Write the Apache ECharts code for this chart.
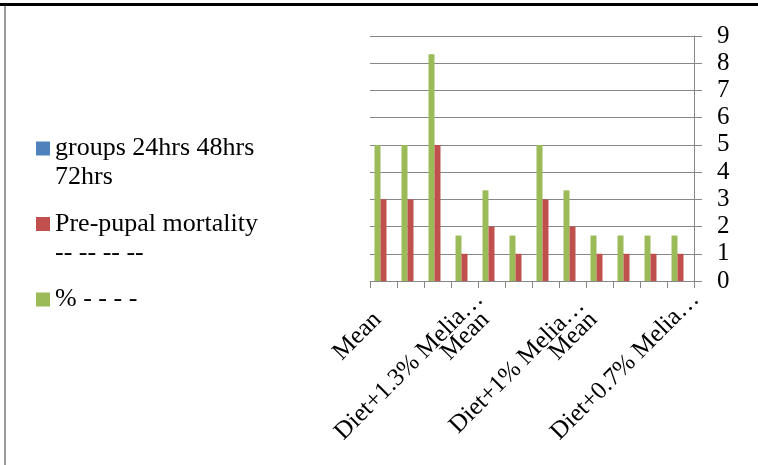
<!DOCTYPE html>
<html>
<head>
<meta charset="utf-8">
<script src="https://cdn.jsdelivr.net/npm/echarts@6/dist/echarts.min.js"></script>
<style>
html,body{margin:0;padding:0;background:#ffffff;}
#chart{width:758px;height:465px;}
</style>
</head>
<body>
<div id="chart"></div>
<script>
// ---- data (display order, left to right) ----
const categories = ['Mean', '', 'Diet+1.3% Melia…', '', 'Mean', '', 'Diet+1% Melia…', '', 'Mean', '', 'Diet+0.7% Melia…', ''];
const seriesNames = ['groups 24hrs 48hrs 72hrs', 'Pre-pupal mortality -- -- -- --', '% - - - -'];
const groupsValues = [0, 0, 0, 0, 0, 0, 0, 0, 0, 0, 0, 0];
const prePupalValues = [3, 3, 5, 1, 2, 1, 3, 2, 1, 1, 1, 1];
const percentValues = [5, 5, 8.33, 1.67, 3.33, 1.67, 5, 3.33, 1.67, 1.67, 1.67, 1.67];
const yMin = 0, yMax = 9, yStep = 1;

const FONT = "'Liberation Serif', 'Times New Roman', serif";
const FS = 25;
const LEG_FS = 26;
const LEG_LH = 29;
const GRID_COLOR = '#868686';
const colors = { groups: '#4F81BD', pre: '#C0504D', pct: '#9BBB59' };

// word wrap for legend text (like the spreadsheet's legend box)
const measureCtx = document.createElement('canvas').getContext('2d');
measureCtx.font = LEG_FS + "px 'Liberation Serif'";
function wrapWords(text, maxWidth) {
  const words = text.split(' ');
  const lines = [];
  let cur = '';
  words.forEach(function (w) {
    const test = cur ? cur + ' ' + w : w;
    if (cur && measureCtx.measureText(test).width > maxWidth) {
      lines.push(cur);
      cur = w;
    } else {
      cur = test;
    }
  });
  if (cur) lines.push(cur);
  return lines;
}

const legendText = { fontFamily: FONT, fontSize: LEG_FS, color: '#000000' };
function legendFor(name, iconCenterY) {
  const lines = wrapWords(name, 215);
  const blockH = lines.length === 1 ? LEG_LH : LEG_LH * (lines.length + 1);
  return {
    orient: 'vertical',
    left: 36,
    top: iconCenterY - blockH / 2,
    padding: 0,
    itemWidth: 14,
    itemHeight: 14,
    icon: 'rect',
    selectedMode: false,
    data: [name],
    formatter: function () {
      if (lines.length === 1) return '{s|' + lines[0] + '}';
      return lines.map(function (l, i) { return (i === 0 ? '{f|' : '{n|') + l + '}'; }).join('\n');
    },
    textStyle: {
      fontFamily: FONT, fontSize: LEG_FS, color: '#000000',
      rich: {
        f: Object.assign({ lineHeight: LEG_LH * 2, padding: [LEG_LH, 0, 0, 0] }, legendText),
        n: Object.assign({ lineHeight: LEG_LH }, legendText),
        s: Object.assign({ lineHeight: LEG_LH }, legendText)
      }
    }
  };
}

const chart = echarts.init(document.getElementById('chart'), null, { renderer: 'canvas' });

const option = {
  animation: false,
  backgroundColor: '#ffffff',
  graphic: [
    { type: 'rect', left: 0, top: 3, shape: { width: 758, height: 3 }, style: { fill: '#000000' }, silent: true },
    { type: 'rect', left: 4, top: 6, shape: { width: 2, height: 459 }, style: { fill: '#9a9a9a' }, silent: true }
  ],
  grid: { left: 370, right: 64, top: 36, bottom: 184, containLabel: false },
  legend: [
    legendFor(seriesNames[0], 150),
    legendFor(seriesNames[1], 225.5),
    legendFor(seriesNames[2], 301)
  ],
  xAxis: {
    type: 'category',
    data: categories,
    boundaryGap: true,
    axisLine: { show: true, onZero: true, lineStyle: { color: GRID_COLOR, width: 1 } },
    axisTick: { show: true, alignWithLabel: false, interval: 0, length: 7, lineStyle: { color: GRID_COLOR, width: 1 } },
    axisLabel: {
      interval: 0,
      rotate: 45,
      margin: 29,
      align: 'center',
      verticalAlign: 'middle',
      fontFamily: FONT,
      fontSize: FS,
      color: '#000000',
      formatter: function (v) {
        if (!v) return '';
        return v.indexOf('Diet') === 0 ? '{d|' + v + '}' : '{m|' + v + '}';
      },
      rich: {
        m: { fontFamily: FONT, fontSize: FS, color: '#000000', padding: [0, 74, 0, 0] },
        d: { fontFamily: FONT, fontSize: FS, color: '#000000', padding: [39, 119, 0, 0] }
      }
    },
    splitLine: { show: false }
  },
  yAxis: {
    type: 'value',
    position: 'right',
    min: yMin,
    max: yMax,
    interval: yStep,
    axisLine: { show: true, lineStyle: { color: GRID_COLOR, width: 1 } },
    axisTick: { show: true, inside: false, length: 8, lineStyle: { color: GRID_COLOR, width: 1 } },
    axisLabel: { margin: 23, align: 'left', fontFamily: FONT, fontSize: FS, color: '#000000' },
    splitLine: { show: true, lineStyle: { color: GRID_COLOR, width: 1 } }
  },
  series: [
    { name: seriesNames[2], type: 'bar', data: percentValues, itemStyle: { color: colors.pct }, barGap: '0%', barCategoryGap: '33.3%' },
    { name: seriesNames[1], type: 'bar', data: prePupalValues, itemStyle: { color: colors.pre }, barGap: '0%', barCategoryGap: '33.3%' },
    { name: seriesNames[0], type: 'bar', data: groupsValues, itemStyle: { color: colors.groups }, barGap: '0%', barCategoryGap: '33.3%' }
  ]
};

chart.setOption(option);
</script>
</body>
</html>
